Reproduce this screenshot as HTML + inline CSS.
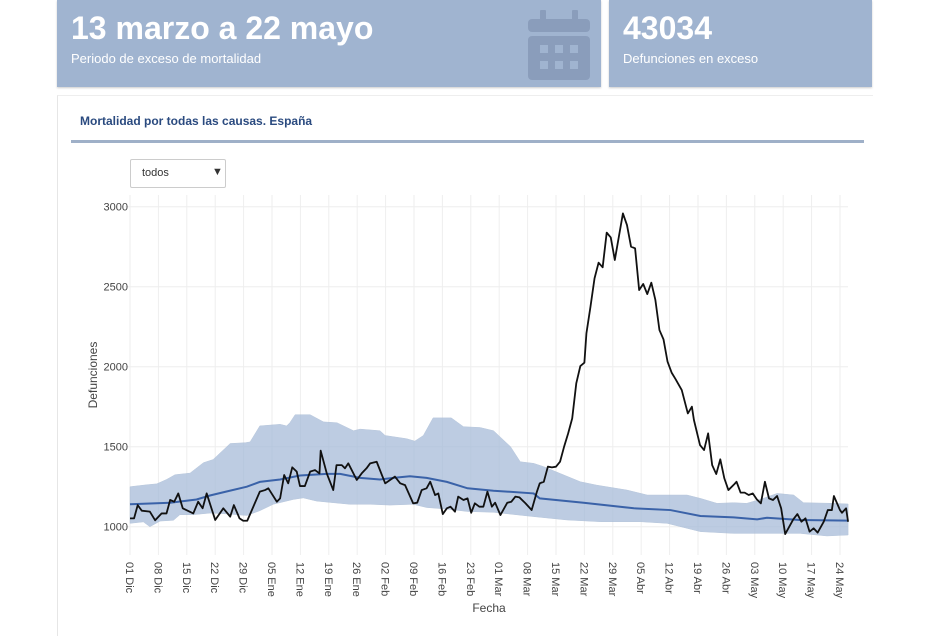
<!DOCTYPE html>
<html><head><meta charset="utf-8"><style>
body{margin:0;width:928px;height:621px;background:#fff;position:relative;overflow:hidden;font-family:"Liberation Sans",sans-serif}
.panel{position:absolute;top:0;height:87px;background:#a0b4d0;box-shadow:0 1px 2px rgba(0,0,0,.2)}
.big{position:absolute;left:14px;top:10px;color:#fff;font-size:32px;font-weight:bold}
.sub{position:absolute;left:14px;top:51px;color:#fff;font-size:13px}
</style></head><body>
<div class="panel" style="left:57px;width:544px">
<div class="big">13 marzo a 22 mayo</div>
<div class="sub">Periodo de exceso de mortalidad</div>
<svg style="position:absolute;left:471px;top:8px" width="62" height="74">
<rect x="12" y="2" width="6" height="12" rx="1" fill="#8a9dbb"/><rect x="44" y="2" width="6" height="12" rx="1" fill="#8a9dbb"/>
<rect x="0" y="11" width="62" height="13" rx="4" fill="#8a9dbb"/><rect x="0" y="28" width="62" height="44" rx="4" fill="#8a9dbb"/>
<g fill="#a0b4d0"><rect x="12" y="37" width="8" height="8"/><rect x="27" y="37" width="8" height="8"/><rect x="42" y="37" width="8" height="8"/><rect x="12" y="53" width="8" height="8"/><rect x="27" y="53" width="8" height="8"/><rect x="42" y="53" width="8" height="8"/></g></svg>
</div>
<div class="panel" style="left:609px;width:263px">
<div class="big">43034</div>
<div class="sub">Defunciones en exceso</div>
</div>
<div style="position:absolute;left:57px;top:95px;width:815px;height:540px;border-left:1px solid #e6e6e6;border-top:1px solid #eee"></div>
<div style="position:absolute;left:80px;top:114px;font-size:12px;font-weight:bold;color:#2a4a7f">Mortalidad por todas las causas. España</div>
<div style="position:absolute;left:71px;top:140px;width:793px;height:3px;background:#9fb0c8"></div>
<div style="position:absolute;left:130px;top:159px;width:94px;height:27px;border:1px solid #ccc;border-radius:2px;font-size:11px;color:#333">
<span style="position:absolute;left:11px;top:7px">todos</span><span style="position:absolute;left:81px;top:6px;font-size:11px">▼</span></div>
<svg id="chart" style="position:absolute;left:0;top:0" width="928" height="621"></svg>
<script>
const obsDays=[0,1,1.9,2.9,4.9,6.2,7.8,9,9.9,10.9,11.9,13,15.6,16.8,17.9,18.9,21,23,24.7,25.6,27,27.9,28.9,32,33.3,34.1,36.2,37,38,39,40,41.1,41.9,43.1,44.4,45.6,46.7,47,48.5,50.1,50.9,52.2,53,53.8,55.9,57.1,58.3,59.2,60.8,62.9,64.1,65.3,66.6,67.8,69.8,70.8,71.9,73.1,74,75.2,76,77.1,78.1,79,80.1,80.9,82.2,83.2,84.1,85,86.1,87.1,88.1,89.2,90,91.3,93,94,95,96,97.5,99,100.3,101,102,103,104,105,106,107,108,109,110,111,112,112.5,113.5,114.5,115.5,116.5,117.5,118.5,119.5,120.5,121.5,122.5,123.5,124.5,125.5,126.5,127.5,128.5,129.5,130.5,131.5,132.5,133.5,134.5,136,137.5,138.5,139,140.5,141.5,142.5,143.5,144.5,145.5,146.5,147.5,149,149.5,150.5,151.5,152.5,153.5,154.5,155.5,156.5,157.5,158.5,159.5,160.5,161.5,162.5,163.5,164.5,165.5,166.5,167.5,168.5,169.5,171,172,173,173.5,175,175.5,176.5,177];
const obsVals=[1052,1052,1135,1100,1094,1040,1083,1083,1167,1156,1208,1115,1083,1156,1115,1208,1042,1115,1063,1135,1052,1037,1037,1219,1229,1240,1156,1177,1323,1271,1371,1344,1254,1254,1344,1354,1333,1475,1333,1229,1385,1385,1365,1396,1292,1333,1365,1396,1406,1271,1292,1313,1271,1260,1146,1150,1229,1240,1281,1198,1208,1079,1115,1125,1094,1188,1167,1177,1087,1146,1125,1125,1219,1125,1150,1073,1150,1156,1188,1183,1146,1104,1219,1271,1281,1375,1371,1375,1406,1500,1583,1677,1896,2004,2025,2208,2375,2552,2650,2621,2838,2808,2667,2813,2958,2885,2750,2740,2479,2517,2454,2525,2417,2229,2171,2031,1963,1921,1854,1708,1750,1667,1510,1479,1583,1385,1329,1421,1302,1229,1267,1281,1213,1213,1198,1208,1171,1146,1281,1177,1167,1192,1115,954,1000,1046,1079,1031,1052,969,990,963,1031,1104,1104,1192,1104,1087,1115,1031];
const upDays=[0,4.1,6.6,9,11.1,14.8,18.1,20.5,24.7,28.4,29.6,32,37,38.6,39.4,40.7,44.4,47.7,51,55.1,56.7,61.6,62.9,68.2,70.2,72.3,74.7,79.2,82.2,86.3,89.6,93.8,96.2,99.5,102,106,111,115,122.5,127.5,132.4,137.3,140.6,144.7,148.8,152,155.4,159.5,163.6,166,173.5,177];
const upVals=[1250,1262,1268,1295,1325,1335,1400,1420,1520,1525,1530,1630,1640,1630,1650,1700,1700,1655,1650,1600,1610,1600,1570,1550,1535,1570,1680,1680,1625,1620,1600,1500,1406,1396,1375,1333,1281,1260,1229,1198,1198,1198,1177,1146,1150,1146,1171,1208,1198,1150,1146,1142];
const loDays=[0,3.3,4.9,7.4,10.7,12.3,15.6,19.7,23.8,28.8,32,35.3,40.2,42.7,46,50.1,54.2,59.2,64.1,69.8,73.1,78.1,83.2,89.6,99.5,107.7,116,125.8,132.4,140.6,148.8,157,165.2,171.8,177];
const loVals=[1021,1030,1000,1035,1040,1075,1075,1085,1080,1070,1100,1140,1170,1180,1160,1150,1140,1140,1135,1140,1120,1110,1095,1090,1063,1042,1031,1031,1021,969,958,958,958,942,948];
const expDays=[0,9.9,16.4,19.7,23.8,28.8,32,37,41.9,48.5,51.8,56.7,61.6,64.9,69,73.1,78.1,83.2,89.6,99.5,101,111.8,124.2,133.2,140.6,148.8,154.6,157,165.2,177];
const expVals=[1140,1150,1170,1195,1220,1250,1280,1295,1320,1330,1330,1305,1295,1305,1315,1305,1280,1240,1225,1208,1177,1150,1115,1104,1067,1058,1046,1056,1042,1038];
const yTicks=[1000,1500,2000,2500,3000];
const xTickLabels=["01 Dic","08 Dic","15 Dic","22 Dic","29 Dic","05 Ene","12 Ene","19 Ene","26 Ene","02 Feb","09 Feb","16 Feb","23 Feb","01 Mar","08 Mar","15 Mar","22 Mar","29 Mar","05 Abr","12 Abr","19 Abr","26 Abr","03 May","10 May","17 May","24 May"];
const NS="http://www.w3.org/2000/svg",svg=document.getElementById('chart');
const X0=130,PXD=4.057,xs=d=>X0+d*PXD;
const ys=v=>526.7-(v-1000)*0.16;
function mk(t,a){const e=document.createElementNS(NS,t);for(const k in a)e.setAttribute(k,a[k]);svg.appendChild(e);return e;}
yTicks.forEach(v=>{const l=mk('line',{x1:125,x2:848,y1:ys(v),y2:ys(v),stroke:'#eee'});


const t=mk('text',{x:128,y:ys(v)+4,'text-anchor':'end','font-size':11,fill:'#444'});t.textContent=v;

});
xTickLabels.forEach((s,i)=>{const x=xs(i*7);const l=mk('line',{x1:x,x2:x,y1:195,y2:555,stroke:'#eee'});


const t=mk('text',{x:0,y:0,'font-size':11,fill:'#444',transform:`translate(${x-4},562) rotate(90)`});t.textContent=s;

});
let d='M'+upDays.map((v,i)=>xs(v)+','+ys(upVals[i])).join('L');
for(let i=loDays.length-1;i>=0;i--)d+='L'+xs(loDays[i])+','+ys(loVals[i]);
const band=mk('path',{d:d+'Z',fill:'#a7bcd9',opacity:0.75,stroke:'#9fb3cf','stroke-width':0.5});


const e=mk('polyline',{points:expDays.map((v,i)=>xs(v)+','+ys(expVals[i])).join(' '),fill:'none',stroke:'#3a62a8','stroke-width':2});


const o=mk('polyline',{points:obsDays.map((v,i)=>xs(v)+','+ys(obsVals[i])).join(' '),fill:'none',stroke:'#111','stroke-width':1.8,'stroke-linejoin':'round'});


const yt=mk('text',{x:0,y:0,'font-size':12,fill:'#444','text-anchor':'middle',transform:'translate(97,375) rotate(-90)'});yt.textContent='Defunciones';


const xt=mk('text',{x:489,y:612,'font-size':12,fill:'#444','text-anchor':'middle'});xt.textContent='Fecha';


</script>
</body></html>
